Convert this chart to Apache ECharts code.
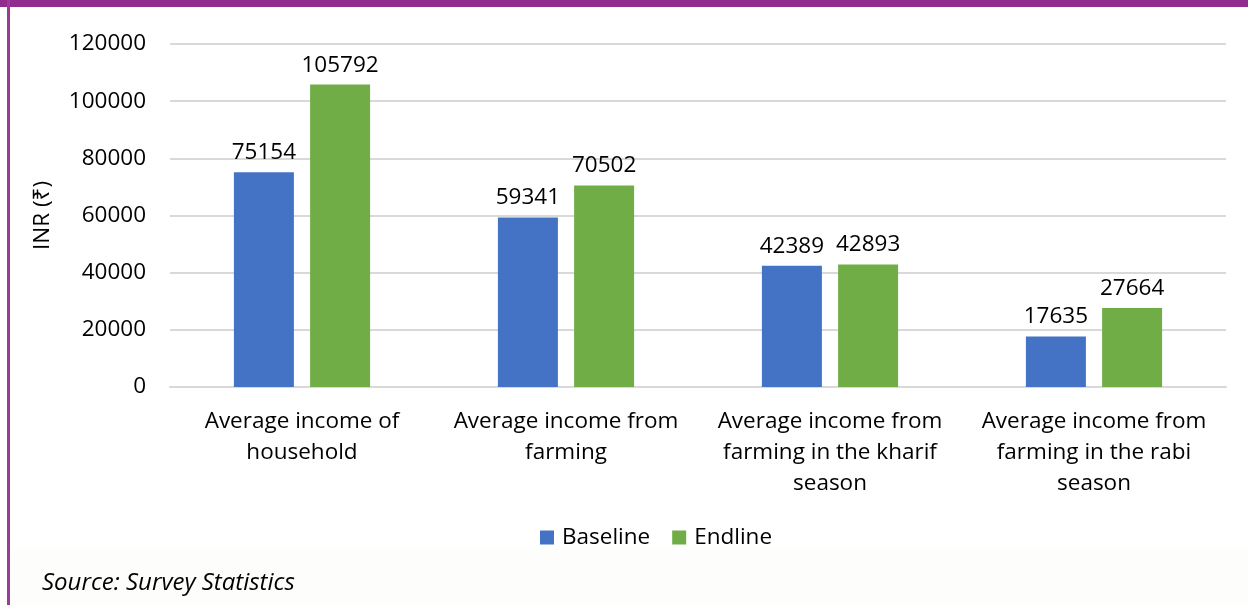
<!DOCTYPE html>
<html>
<head>
<meta charset="utf-8">
<script src="https://cdn.jsdelivr.net/npm/echarts@6/dist/echarts.min.js"></script>
<style>
html,body{margin:0;padding:0;background:#fff;}
#wrap{position:relative;width:1248px;height:605px;overflow:hidden;background:#fff;}
#topbar{position:absolute;left:0;top:0;width:1248px;height:7px;background:#922B8E;}
#leftbar{position:absolute;left:7px;top:0;width:3px;height:605px;background:#9B3A97;}
#foot{position:absolute;left:10px;top:549px;width:1238px;height:56px;background:#FDFDFB;}
#chart{position:absolute;left:0;top:0;width:1248px;height:605px;}
</style>
</head>
<body>
<div id="wrap">
<div id="foot"></div>
<div id="chart"></div>
<div id="topbar"></div>
<div id="leftbar"></div>
</div>
<script>
const categories = ["Average income of\nhousehold", "Average income from\nfarming", "Average income from\nfarming in the kharif\nseason", "Average income from\nfarming in the rabi\nseason"];
const baseline = [75154, 59341, 42389, 17635];
const endline = [105792, 70502, 42893, 27664];
const yTicks = [0, 20000, 40000, 60000, 80000, 100000, 120000];
const seriesNames = ["Baseline", "Endline"];
const sourceText = "Source: Survey Statistics";

const FONT = "'Open Sans', 'Noto Sans', 'DejaVu Sans', sans-serif";
const FS = 22.5;
const chart = echarts.init(document.getElementById('chart'), null, {renderer: 'canvas'});
chart.setOption({
  animation: false,
  backgroundColor: 'transparent',
  textStyle: {fontFamily: FONT},
  grid: {left: 170, right: 22, top: 44, bottom: 218, containLabel: false},
  legend: {
    data: seriesNames,
    top: 521,
    left: 535,
    itemWidth: 14, itemHeight: 14, itemGap: 22,
    icon: 'rect',
    textStyle: {fontFamily: FONT, fontSize: FS, color: '#000', padding: [0,0,0,3]}
  },
  graphic: [{
    type: 'text', left: 42, top: 571,
    style: {text: sourceText, font: "italic 24px " + FONT, fill: '#000'}
  }],
  xAxis: {
    type: 'category', data: categories,
    axisLine: {show: true, lineStyle: {color: '#D9D9D9', width: 2}},
    axisTick: {show: false},
    axisLabel: {fontFamily: FONT, fontSize: FS, color: '#000', lineHeight: 31, margin: 19, interval: 0}
  },
  yAxis: {
    type: 'value', min: yTicks[0], max: yTicks[yTicks.length-1], interval: 20000,
    name: 'INR (₹)', nameLocation: 'middle', nameGap: 116, nameRotate: 90,
    nameTextStyle: {fontFamily: FONT, fontSize: FS, color: '#000'},
    axisLine: {show: false}, axisTick: {show: false},
    axisLabel: {fontFamily: FONT, fontSize: FS, color: '#000', margin: 24, formatter: v => String(v)},
    splitLine: {lineStyle: {color: '#D9D9D9', width: 2}}
  },
  series: [
    {name: seriesNames[0], type: 'bar', data: baseline, barWidth: 60, barGap: '27%',
     itemStyle: {color: '#4472C4'},
     label: {show: true, position: 'top', distance: 8, fontFamily: FONT, fontSize: FS, color: '#000'}},
    {name: seriesNames[1], type: 'bar', data: endline, barWidth: 60, barGap: '27%',
     itemStyle: {color: '#70AD47'},
     label: {show: true, position: 'top', distance: 8, fontFamily: FONT, fontSize: FS, color: '#000'}}
  ]
});
</script>
</body>
</html>
